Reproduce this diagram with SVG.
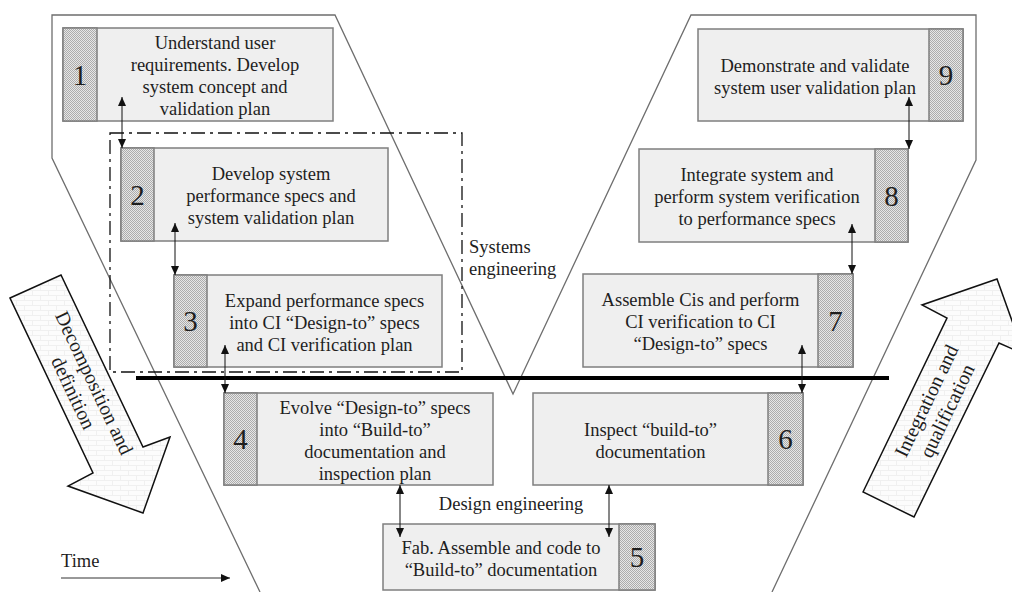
<svg xmlns="http://www.w3.org/2000/svg" width="1012" height="592" viewBox="0 0 1012 592">
<style>
  .box { fill: #efefef; stroke: #7f7f7f; stroke-width: 1.5; }
  .hatch { fill: url(#checker); stroke: #7f7f7f; stroke-width: 1.5; }
  .t { font-family: "Liberation Serif", "Times New Roman", serif; font-size: 18.5px; fill: #1e1e1e; text-anchor: middle; }
  .num { font-family: "Liberation Serif", "Times New Roman", serif; font-size: 29px; fill: #1e1e1e; text-anchor: middle; }
  .lbl { font-family: "Liberation Serif", "Times New Roman", serif; font-size: 18.5px; fill: #1e1e1e; }
  .rt { font-family: "Liberation Serif", "Times New Roman", serif; font-size: 20px; fill: #1e1e1e; text-anchor: middle; }
  .con { stroke: #111; stroke-width: 1; fill: none; marker-start: url(#ah); marker-end: url(#ah); }
  .outline { fill: none; stroke: #6e6e6e; stroke-width: 1.3; }
  .bigarrow { fill: url(#brick); stroke: #111; stroke-width: 1.5; stroke-linejoin: miter; }
</style>
<defs>
  <pattern id="checker" width="2" height="2" patternUnits="userSpaceOnUse">
    <rect width="2" height="2" fill="#e6e6e6"/>
    <rect x="0" y="0" width="1" height="1" fill="#acacac"/>
    <rect x="1" y="1" width="1" height="1" fill="#acacac"/>
  </pattern>
  <pattern id="brick" width="16" height="10" patternUnits="userSpaceOnUse">
    <rect width="16" height="10" fill="#fcfcfc"/>
    <path d="M0,0.5 H16 M0,5.5 H16 M0.5,0 V5 M8.5,5 V10" stroke="#f0f0f0" stroke-width="1" fill="none"/>
  </pattern>
  <marker id="ah" markerWidth="9" markerHeight="8" refX="9" refY="4" orient="auto-start-reverse" markerUnits="userSpaceOnUse">
    <path d="M0,0 L9,4 L0,8 z" fill="#111"/>
  </marker>
</defs>
<rect width="1012" height="592" fill="#ffffff"/>

<g id="v-outline">
  <polyline class="outline" points="260,592 52,158 52,15 335,15 513,394 691,15 976,15 976,160 772,592"/>
</g>

<g id="systems-boundary">
  <rect x="110" y="133" width="352" height="239" fill="none" stroke="#111" stroke-width="1.3" stroke-dasharray="14 5 3 5"/>
</g>

<g id="n1">
  <rect class="box" x="63" y="28" width="270" height="93"/>
  <rect class="hatch" x="63" y="28" width="34" height="93"/>
  <text class="num" x="80" y="84.5">1</text>
  <text class="t" x="215"><tspan x="215" y="49">Understand user</tspan><tspan x="215" y="71">requirements. Develop</tspan><tspan x="215" y="93">system concept and</tspan><tspan x="215" y="115">validation plan</tspan></text>
</g>
<g id="n2">
  <rect class="box" x="121" y="148" width="267" height="93"/>
  <rect class="hatch" x="121" y="148" width="33" height="93"/>
  <text class="num" x="137.5" y="204.5">2</text>
  <text class="t" x="271"><tspan x="271" y="180">Develop system</tspan><tspan x="271" y="202">performance specs and</tspan><tspan x="271" y="224">system validation plan</tspan></text>
</g>
<g id="n3">
  <rect class="box" x="174" y="275" width="268" height="92"/>
  <rect class="hatch" x="174" y="275" width="33" height="92"/>
  <text class="num" x="190.5" y="331">3</text>
  <text class="t" x="324.5"><tspan x="324.5" y="306.5">Expand performance specs</tspan><tspan x="324.5" y="328.5">into CI “Design-to” specs</tspan><tspan x="324.5" y="350.5">and CI verification plan</tspan></text>
</g>
<g id="n4">
  <rect class="box" x="224" y="393" width="269" height="92"/>
  <rect class="hatch" x="224" y="393" width="33" height="92"/>
  <text class="num" x="240.5" y="449">4</text>
  <text class="t" x="375"><tspan x="375" y="413.5">Evolve “Design-to” specs</tspan><tspan x="375" y="435.5">into “Build-to”</tspan><tspan x="375" y="457.5">documentation and</tspan><tspan x="375" y="479.5">inspection plan</tspan></text>
</g>
<g id="n5">
  <rect class="box" x="383" y="524" width="272" height="66"/>
  <rect class="hatch" x="619" y="524" width="36" height="66"/>
  <text class="num" x="637" y="567">5</text>
  <text class="t" x="501"><tspan x="501" y="553.5">Fab. Assemble and code to</tspan><tspan x="501" y="575.5">“Build-to” documentation</tspan></text>
</g>
<g id="n6">
  <rect class="box" x="533" y="393" width="270" height="92"/>
  <rect class="hatch" x="768" y="393" width="35" height="92"/>
  <text class="num" x="785.5" y="449">6</text>
  <text class="t" x="650.5"><tspan x="650.5" y="435.5">Inspect “build-to”</tspan><tspan x="650.5" y="457.5">documentation</tspan></text>
</g>
<g id="n7">
  <rect class="box" x="583" y="274" width="270" height="93"/>
  <rect class="hatch" x="818" y="274" width="35" height="93"/>
  <text class="num" x="835.5" y="330.5">7</text>
  <text class="t" x="700.5"><tspan x="700.5" y="306">Assemble Cis and perform</tspan><tspan x="700.5" y="328">CI verification to CI</tspan><tspan x="700.5" y="350">“Design-to” specs</tspan></text>
</g>
<g id="n8">
  <rect class="box" x="639" y="149" width="269" height="93"/>
  <rect class="hatch" x="875" y="149" width="33" height="93"/>
  <text class="num" x="891.5" y="205.5">8</text>
  <text class="t" x="757"><tspan x="757" y="181">Integrate system and</tspan><tspan x="757" y="203">perform system verification</tspan><tspan x="757" y="225">to performance specs</tspan></text>
</g>
<g id="n9">
  <rect class="box" x="698" y="29" width="265" height="92"/>
  <rect class="hatch" x="929" y="29" width="34" height="92"/>
  <text class="num" x="946" y="85">9</text>
  <text class="t" x="815"><tspan x="815" y="71.5">Demonstrate and validate</tspan><tspan x="815" y="93.5">system user validation plan</tspan></text>
</g>

<g id="divider">
  <line x1="136" y1="378" x2="889" y2="378" stroke="#000" stroke-width="4"/>
</g>

<g id="connectors">
  <line class="con" x1="122" y1="97" x2="122" y2="148"/>
  <line class="con" x1="175" y1="223" x2="175" y2="275"/>
  <line class="con" x1="225" y1="345" x2="225" y2="393"/>
  <line class="con" x1="400" y1="485" x2="400" y2="537"/>
  <line class="con" x1="609" y1="485" x2="609" y2="537"/>
  <line class="con" x1="802" y1="345" x2="802" y2="393"/>
  <line class="con" x1="852" y1="224" x2="852" y2="274"/>
  <line class="con" x1="909" y1="97" x2="909" y2="149"/>
</g>

<g id="labels">
  <text class="lbl" x="469" y="253">Systems</text>
  <text class="lbl" x="469" y="275">engineering</text>
  <text class="lbl" x="511" y="510" text-anchor="middle">Design engineering</text>
</g>

<g id="time">
  <text class="lbl" x="61" y="567">Time</text>
  <line x1="61" y1="578" x2="230" y2="578" stroke="#333" stroke-width="1" marker-end="url(#ah)"/>
</g>

<g id="decomposition-arrow">
  <polygon class="bigarrow" points="10,298 61,275 143,447 170,437 143,513 68,486 93,473"/>
  <text class="rt" transform="translate(83.6,388) rotate(64.6)"><tspan x="0" y="-5">Decomposition and</tspan><tspan x="0" y="18">definition</tspan></text>
</g>

<g id="integration-arrow">
  <polygon class="bigarrow" points="863,492 947,318 922,305 997,279 1024,354 999,343 914,517"/>
  <text class="rt" transform="translate(937,406) rotate(-64.2)"><tspan x="0" y="-5">Integration and</tspan><tspan x="0" y="18">qualification</tspan></text>
</g>
</svg>
